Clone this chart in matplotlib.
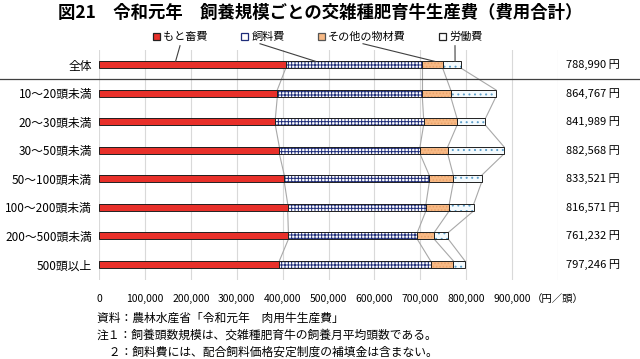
import numpy as np
import matplotlib
matplotlib.use('Agg')
from matplotlib import pyplot as plt
from matplotlib import transforms
from matplotlib.lines import Line2D
from matplotlib.patches import Patch

plt.rcParams['font.family'] = ['Noto Sans CJK JP', 'DejaVu Sans']
plt.rcParams['hatch.linewidth'] = 0.7

# 飼養規模ごとの費用（円／頭）、グラフから読み取り
categories = ['全体', '10～20頭未満', '20～30頭未満', '30～50頭未満', '50～100頭未満',
              '100～200頭未満', '200～500頭未満', '500頭以上']
motochiku = [406800, 388500, 384200, 392900, 403800, 411100, 412600, 392900]
shiryo = [297600, 315900, 323000, 306400, 315800, 301300, 280900, 329500]
sonota = [44400, 61800, 72800, 60400, 52400, 50800, 37000, 49600]
totals = [788990, 864767, 841989, 882568, 833521, 816571, 761232, 797246]
rodo = [t - a - b - c for t, a, b, c in zip(totals, motochiku, shiryo, sonota)]

series_names = ['もと畜費', '飼料費', 'その他の物材費', '労働費']
xticks = list(range(0, 1000001, 100000))
xticklabels = ['{:,}'.format(v) for v in xticks[:-1]] + ['（円／頭）']

fig = plt.figure(figsize=(6.4, 3.59), dpi=100)
ax = fig.add_axes([99 / 640, 1 - 280 / 359, 459 / 640, 230 / 359])

y = np.arange(len(categories))
h = 0.24
segs = [motochiku, shiryo, sonota, rodo]
faces = ['#E8302A', 'white', '#F7B985', '#F4FAFD']
hatch_cols = ['#E8302A', '#1F2D7A', '#E9A36A', '#5E9EC8']
hatches = [None, '+++++', '.....', '...']

left = np.zeros(len(categories))
bounds = []
for vals, fc, hc, ht in zip(segs, faces, hatch_cols, hatches):
    vals = np.array(vals, dtype=float)
    ax.barh(y, vals, left=left, height=h, color=fc, edgecolor=hc, hatch=ht, linewidth=0, zorder=3)
    ax.barh(y, vals, left=left, height=h, fill=False, edgecolor='#202020', linewidth=0.7, zorder=4)
    left = left + vals
    bounds.append(left.copy())

# 系列線
for b in bounds:
    for i in range(len(categories) - 1):
        ax.plot([b[i], b[i + 1]], [y[i] + h / 2, y[i + 1] - h / 2], color='#A8A8A8', lw=0.8, zorder=2)

ax.set_xlim(0, 1000000)
ax.set_ylim(len(categories) - 0.45, -0.52)
ax.set_xticks(xticks)
ax.set_xticklabels(xticklabels, fontsize=7.5)
ax.set_yticks(y)
ax.set_yticklabels(categories, fontsize=8.5)
ax.tick_params(axis='x', length=0, pad=10)
ax.tick_params(axis='y', length=0, pad=5)
ax.grid(axis='x', color='#D9D9D9', lw=0.8, zorder=0)
for s in ax.spines.values():
    s.set_visible(False)

for yi, t in zip(y, totals):
    ax.text(1017000, yi, '{:,} 円'.format(t), va='center', ha='left', fontsize=8)

# 全体と規模別の区切り線
tr = transforms.blended_transform_factory(fig.transFigure, ax.transData)
fig.add_artist(Line2D([0, 1], [0.5, 0.5], transform=tr, color='#404040', lw=0.9))

# 凡例
handles = [Patch(facecolor=fc, edgecolor=ec, linewidth=0.9)
           for fc, ec in zip(['#E8302A', 'white', '#F7B985', 'white'],
                             ['#222222', '#1F2D7A', '#555555', '#222222'])]
fig.legend(handles, series_names, loc='center', bbox_to_anchor=(318 / 640, 1 - 37 / 359), ncol=4,
           frameon=False, fontsize=8, handlelength=0.6, handleheight=0.6, handletextpad=0.3,
           columnspacing=3.0)

# 凡例からの引出線
frac = [0.41, 0.22, 0.62, 0.67]
starts = [0] + [b[0] for b in bounds[:-1]]
src_x = [176500, 350800, 575200, 775600]
src_y = [-0.67, -0.74, -0.74, -0.67]
for k in range(4):
    tx = starts[k] + frac[k] * (bounds[k][0] - starts[k])
    ax.plot([src_x[k], tx], [src_y[k], -h / 2], color='#404040', lw=0.8, clip_on=False, zorder=5)

fig.text(320 / 640, 1 - 13 / 359, '図21　令和元年　飼養規模ごとの交雑種肥育牛生産費（費用合計）',
         ha='center', va='center', fontsize=12.5, fontweight='bold')

fig.text(97 / 640, 1 - 318 / 359, '資料：農林水産省「令和元年　肉用牛生産費」', fontsize=8.5, va='center')
fig.text(97 / 640, 1 - 335 / 359, '注１：飼養頭数規模は、交雑種肥育牛の飼養月平均頭数である。', fontsize=8.5, va='center')
fig.text(97 / 640, 1 - 352 / 359, '　２：飼料費には、配合飼料価格安定制度の補填金は含まない。', fontsize=8.5, va='center')

plt.savefig('out.png', dpi=100)
